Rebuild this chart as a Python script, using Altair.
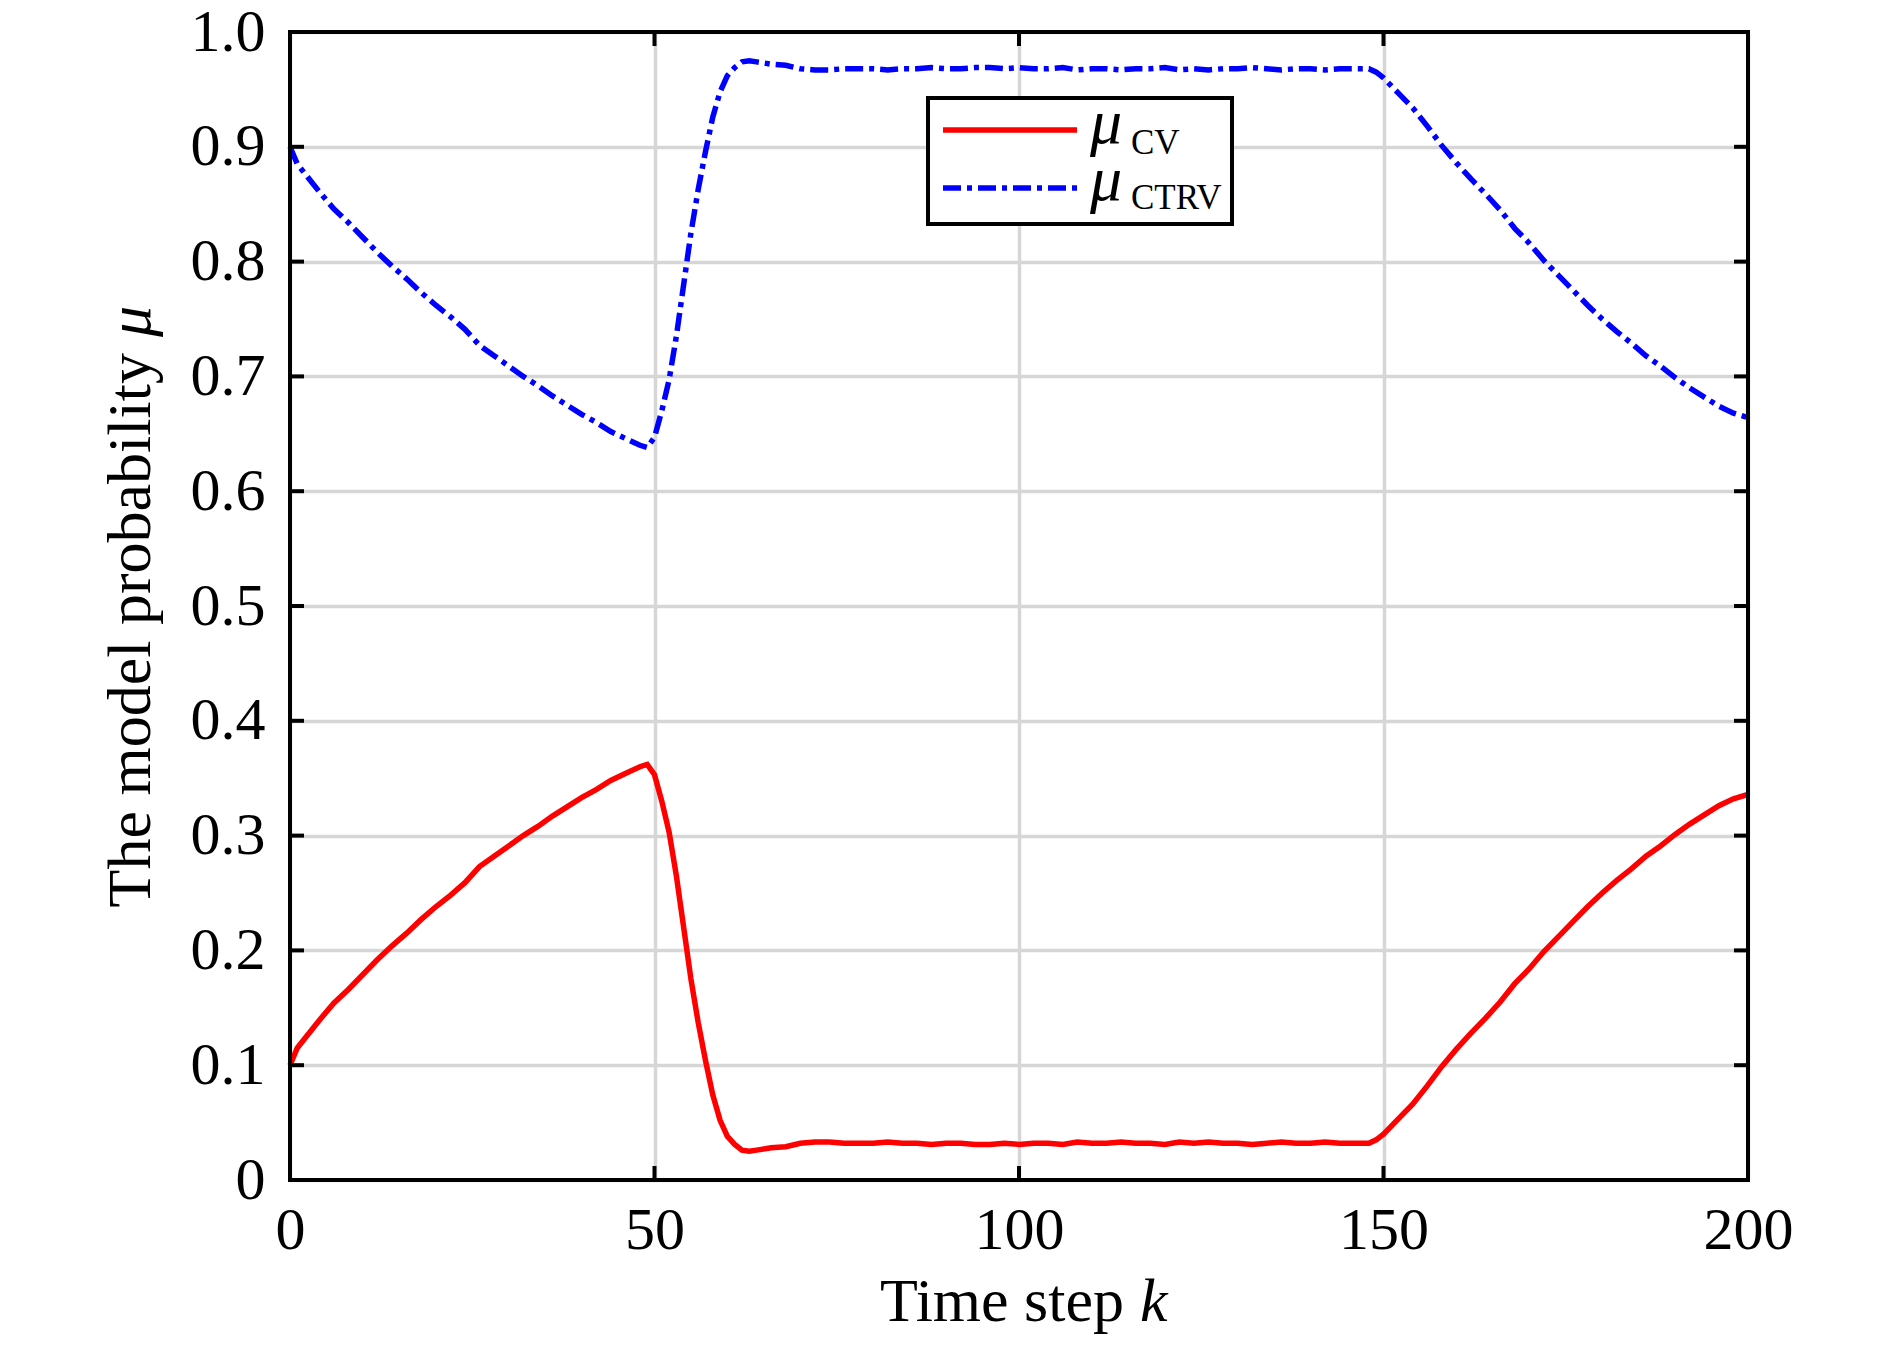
import altair as alt
import pandas as pd

# ---------------- data ----------------
k_steps = [0, 1, 2, 4, 6, 8, 10, 12, 14, 16, 18, 20, 22, 24, 26, 28, 30, 32, 34, 36, 38, 40, 42, 44, 46, 48,
           49, 50, 51, 52, 53, 54, 55, 56, 57, 58, 59, 60, 61, 62, 63, 64,
           66, 68, 70, 72, 74, 76, 78,
           80, 82, 84, 86, 88, 90, 92, 94, 96, 98, 100, 102, 104, 106, 108, 110, 112, 114, 116, 118,
           120, 122, 124, 126, 128, 130, 132, 134, 136, 138, 140, 142, 144, 146, 148,
           149,
           150, 152, 154, 156, 158, 160, 162, 164, 166, 168, 170, 172, 174, 176, 178, 180, 182, 184, 186,
           188, 190, 192, 194, 196, 198, 200]

mu_cv = [0.100, 0.115, 0.123, 0.139, 0.154, 0.166, 0.179, 0.192, 0.204, 0.215, 0.227, 0.238, 0.248, 0.259,
         0.273, 0.282, 0.291, 0.300, 0.308, 0.317, 0.325, 0.333, 0.340, 0.348, 0.354, 0.360,
         0.362, 0.353, 0.330, 0.303, 0.265, 0.220, 0.175, 0.137, 0.104, 0.074, 0.052, 0.038, 0.031, 0.026,
         0.025, 0.026,
         0.028, 0.029, 0.032, 0.033, 0.033, 0.032, 0.032,
         0.032, 0.033, 0.032, 0.032, 0.031, 0.032, 0.032, 0.031, 0.031, 0.032, 0.031, 0.032, 0.032, 0.031,
         0.033, 0.032, 0.032, 0.033, 0.032, 0.032,
         0.031, 0.033, 0.032, 0.033, 0.032, 0.032, 0.031, 0.032, 0.033, 0.032, 0.032, 0.033, 0.032, 0.032,
         0.032,
         0.035,
         0.040, 0.053, 0.066, 0.082, 0.099, 0.114, 0.128, 0.141, 0.155, 0.171, 0.184, 0.199, 0.212, 0.225,
         0.238, 0.250, 0.261, 0.271, 0.282, 0.291, 0.301, 0.310, 0.318, 0.326, 0.332, 0.336]

mu_ctrv = [0.900, 0.885, 0.877, 0.861, 0.846, 0.834, 0.821, 0.808, 0.796, 0.785, 0.773, 0.762, 0.752, 0.741,
           0.727, 0.718, 0.709, 0.700, 0.692, 0.683, 0.675, 0.667, 0.660, 0.652, 0.646, 0.640,
           0.638, 0.647, 0.670, 0.697, 0.735, 0.780, 0.825, 0.863, 0.896, 0.926, 0.948, 0.962, 0.969, 0.974,
           0.975, 0.974,
           0.972, 0.971, 0.968, 0.967, 0.967, 0.968, 0.968,
           0.968, 0.967, 0.968, 0.968, 0.969, 0.968, 0.968, 0.969, 0.969, 0.968, 0.969, 0.968, 0.968, 0.969,
           0.967, 0.968, 0.968, 0.967, 0.968, 0.968,
           0.969, 0.967, 0.968, 0.967, 0.968, 0.968, 0.969, 0.968, 0.967, 0.968, 0.968, 0.967, 0.968, 0.968,
           0.968,
           0.965,
           0.960, 0.947, 0.934, 0.918, 0.901, 0.886, 0.872, 0.859, 0.845, 0.829, 0.816, 0.801, 0.788, 0.775,
           0.762, 0.750, 0.739, 0.729, 0.718, 0.709, 0.699, 0.690, 0.682, 0.674, 0.668, 0.664]

x_ticks = [0, 50, 100, 150, 200]
y_ticks = [0, 0.1, 0.2, 0.3, 0.4, 0.5, 0.6, 0.7, 0.8, 0.9, 1.0]

x_title = ["Time step", "k"]
y_title = ["The model probability", "\u03bc"]
legend_sub = ["CV", "CTRV"]

# ---------------- styling ----------------
W, H = 1458, 1148
FONT = "Liberation Serif"
RED = "#ff0000"
BLUE = "#0000ff"
DASH = [18, 6, 5, 6]
TICK = 14
GRID = "#d6d6d6"

df = pd.DataFrame({"k": k_steps, "cv": mu_cv, "ctrv": mu_ctrv})
tx = pd.DataFrame({"v": x_ticks})
ty = pd.DataFrame({"v": y_ticks})
one = pd.DataFrame({"a": [0]})

xscale = alt.Scale(domain=[0, 200], nice=False, zero=False)
yscale = alt.Scale(domain=[0, 1], nice=False, zero=False)

x_axis = alt.Axis(values=x_ticks, grid=True, gridColor=GRID, gridWidth=3.5, ticks=False, tickSize=0,
                  domain=False, labelFontSize=60, labelFont=FONT, labelColor="black", labelPadding=21,
                  labelFlush=False, labelOverlap=False, title=None, format="d")
y_axis = alt.Axis(values=y_ticks, grid=True, gridColor=GRID, gridWidth=3.5, ticks=False, tickSize=0,
                  domain=False, labelFontSize=60, labelFont=FONT, labelColor="black", labelPadding=25,
                  labelFlush=False, labelOverlap=False, title=None,
                  labelExpr="datum.value == 0 ? '0' : format(datum.value, '.1f')")


def X(field):
    return alt.X(field, type="quantitative", scale=xscale, axis=x_axis)


def Y(field):
    return alt.Y(field, type="quantitative", scale=yscale, axis=y_axis)


def label(text, x, y, size, italic=False, align="left", angle=0):
    kw = dict(font=FONT, fontSize=size, align=align, baseline="alphabetic", color="black")
    if italic:
        kw["fontStyle"] = "italic"
    if angle:
        kw["angle"] = angle
    return alt.Chart(pd.DataFrame({"t": [text]})).mark_text(**kw).encode(
        text="t:N", x=alt.value(x), y=alt.value(y))


red = alt.Chart(df).mark_line(color=RED, strokeWidth=5.5).encode(x=X("k"), y=Y("cv"))
blue = alt.Chart(df).mark_line(color=BLUE, strokeWidth=5.5, strokeDash=DASH).encode(x=X("k"), y=Y("ctrv"))

# inward ticks on all four sides
bt = alt.Chart(tx).mark_rule(color="black", strokeWidth=4).encode(
    x=X("v"), y=alt.value(H - TICK), y2=alt.value(H))
tt = alt.Chart(tx).mark_rule(color="black", strokeWidth=4).encode(
    x=X("v"), y=alt.value(0), y2=alt.value(TICK))
lt = alt.Chart(ty).mark_rule(color="black", strokeWidth=4).encode(
    y=Y("v"), x=alt.value(0), x2=alt.value(TICK))
rt = alt.Chart(ty).mark_rule(color="black", strokeWidth=4).encode(
    y=Y("v"), x=alt.value(W - TICK), x2=alt.value(W))

frame = alt.Chart(one).mark_rect(fillOpacity=0, stroke="black", strokeWidth=4).encode(
    x=alt.value(0), x2=alt.value(W), y=alt.value(0), y2=alt.value(H))

# legend box
lg_box = alt.Chart(one).mark_rect(fill="white", stroke="black", strokeWidth=4).encode(
    x=alt.value(638), x2=alt.value(942), y=alt.value(66), y2=alt.value(192))
lg_red = alt.Chart(one).mark_rule(color=RED, strokeWidth=5.5).encode(
    x=alt.value(653), x2=alt.value(787), y=alt.value(98))
lg_blue = alt.Chart(one).mark_rule(color=BLUE, strokeWidth=5.5, strokeDash=DASH).encode(
    x=alt.value(653), x2=alt.value(787), y=alt.value(156))
lg_mu1 = label(y_title[1], 800, 111, 64, italic=True)
lg_mu2 = label(y_title[1], 800, 168, 64, italic=True)
lg_s1 = label(legend_sub[0], 841, 122, 35)
lg_s2 = label(legend_sub[1], 841, 177, 35)

# axis titles (mixed upright / italic)
xt1 = label(x_title[0], 834, H + 141, 62, align="right")
xt2 = label(x_title[1], 850, H + 141, 62, italic=True)
yt1 = label(y_title[0], -140, 321, 62, align="right", angle=270)
yt2 = label(y_title[1], -140, 305, 62, italic=True, angle=270)

chart = alt.layer(
    red, blue, bt, tt, lt, rt, frame,
    lg_box, lg_red, lg_blue, lg_mu1, lg_mu2, lg_s1, lg_s2,
    xt1, xt2, yt1, yt2,
).properties(
    width=W, height=H,
    autosize=alt.AutoSizeParams(type="none"),
    padding={"left": 282, "top": 24, "right": 100, "bottom": 155},
    background="white",
).configure_view(stroke=None)

chart.save("out.html", embed_options={"renderer": "svg", "actions": False})
